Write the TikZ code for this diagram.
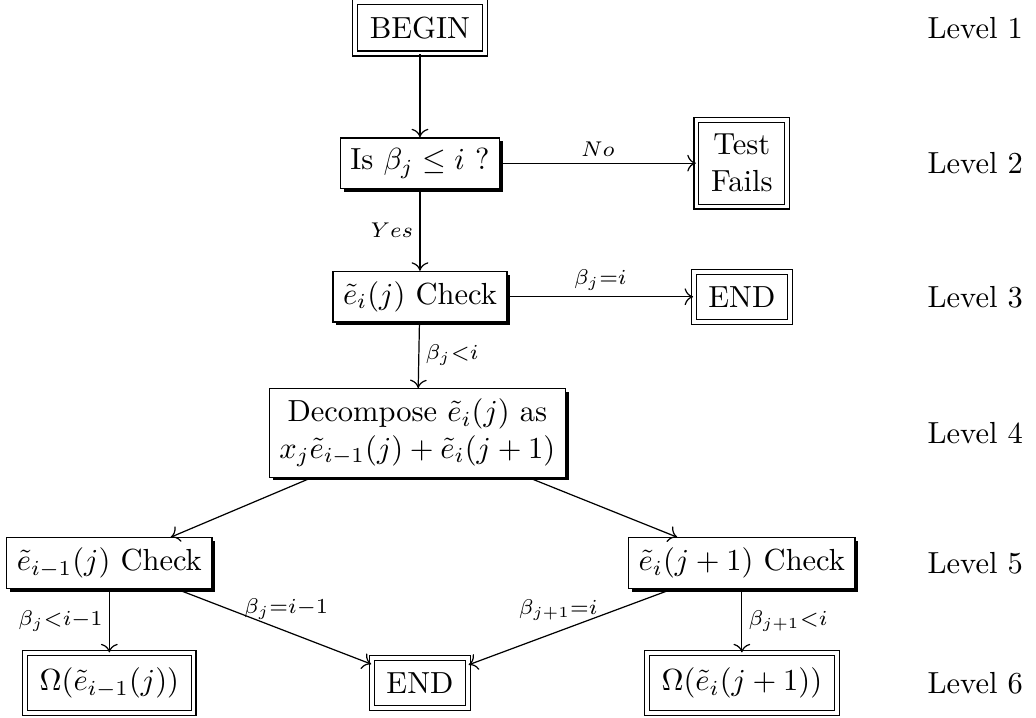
\documentclass[tikz,border=0pt]{standalone}
\usepackage{amsmath}
\usepackage{tikz}
\usetikzlibrary{arrows.meta, shadows}

\begin{document}
\begin{tikzpicture}[
    shbox/.style={rectangle, draw, line width=0.4pt, fill=white, inner sep=3.3pt, align=center,
      drop shadow={shadow xshift=1.1pt, shadow yshift=-1.1pt, fill=black, opacity=1}},
    dbox/.style={rectangle, draw, line width=0.4pt, double, double distance=1.2pt, inner sep=4.8pt, align=center},
    arrow/.style={-{To[length=2.8pt, width=5.5pt]}, line width=0.4pt},
    lbl/.style={inner sep=2pt},
]
\useasboundingbox (0,0) rectangle (11.94,-8.27);

% main column
\node[dbox] (begin) at (4.84,-0.32) {BEGIN};
\node[shbox] (test) at (4.84,-1.88) {Is $\beta_j \leq i$ ?};
\node[dbox] (fails) at (8.55,-1.88) {Test\\Fails};
\node[shbox] (check) at (4.84,-3.42) {$\tilde{e}_i(j)$ Check};
\node[dbox] (endA) at (8.55,-3.42) {END};
\node[shbox] (decomp) at (4.81,-4.99) {Decompose $\tilde{e}_i(j)$ as\\$x_j\tilde{e}_{i-1}(j)+\tilde{e}_i(j+1)$};

% split
\node[shbox] (leftchk) at (1.26,-6.49) {$\tilde{e}_{i-1}(j)$ Check};
\node[shbox] (rightchk) at (8.55,-6.49) {$\tilde{e}_i(j+1)$ Check};
\node[dbox] (omegaL) at (1.26,-7.87) {$\Omega(\tilde{e}_{i-1}(j))$};
\node[dbox] (endB) at (4.84,-7.87) {END};
\node[dbox] (omegaR) at (8.55,-7.87) {$\Omega(\tilde{e}_i(j+1))$};

% levels
\node (lev1) at (11.24,-0.32) {Level 1};
\node (lev2) at (11.24,-1.88) {Level 2};
\node (lev3) at (11.24,-3.42) {Level 3};
\node (lev4) at (11.24,-4.99) {Level 4};
\node (lev5) at (11.24,-6.49) {Level 5};
\node (lev6) at (11.24,-7.87) {Level 6};

\draw[arrow] (begin) -- (test);
\draw[arrow] (test) -- node[lbl, above] {$\scriptstyle No$} (fails);
\draw[arrow] (test) -- node[lbl, left] {$\scriptstyle Yes$} (check);
\draw[arrow] (check) -- node[lbl, above] {$\scriptstyle \beta_j=i$} (endA);
\draw[arrow] (check) -- node[lbl, right] {$\scriptstyle \beta_j<i$} (decomp);
\draw[arrow] (decomp) -- (leftchk);
\draw[arrow] (decomp) -- (rightchk);
\draw[arrow] (leftchk) -- node[lbl, left] {$\scriptstyle \beta_j<i-1$} (omegaL);
\draw[arrow] (leftchk) -- node[lbl, above, xshift=4pt] {$\scriptstyle \beta_j=i-1$} (endB);
\draw[arrow] (rightchk) -- node[lbl, above, xshift=-4pt] {$\scriptstyle \beta_{j+1}=i$} (endB);
\draw[arrow] (rightchk) -- node[lbl, right] {$\scriptstyle \beta_{j+1}<i$} (omegaR);

\end{tikzpicture}
\end{document}
